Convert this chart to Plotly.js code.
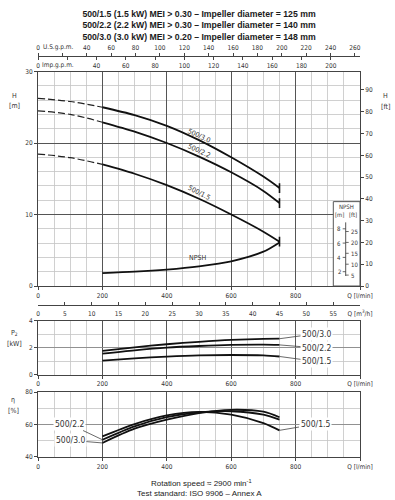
<!DOCTYPE html>
<html><head><meta charset="utf-8">
<script src="https://cdn.plot.ly/plotly-3.0.1.min.js"></script>
<style>html,body{margin:0;padding:0;background:#fff}#chart{width:395px;height:500px}</style>
</head><body><div id="chart"></div>
<script>
// ---- data ----
const Q_SOLID = [200, 300, 400, 500, 600, 700, 750];      // l/min
const Q_DASH  = [0, 100, 200];
const H_30 = [25.0, 23.9, 22.4, 20.4, 18.0, 15.3, 13.7];
const H_22 = [22.9, 21.6, 20.0, 18.1, 15.9, 13.3, 11.6];
const H_15 = [17.0, 15.7, 14.1, 12.2, 10.0, 7.6, 6.2];
const HD_30 = [26.25, 25.8, 25.0];
const HD_22 = [24.5, 24.0, 22.9];
const HD_15 = [18.45, 17.95, 17.0];
const NPSH = [1.8, 2.0, 2.3, 2.75, 3.45, 4.8, 6.1];
const P2_30 = [1.76, 2.02, 2.25, 2.43, 2.57, 2.65, 2.66];
const P2_22 = [1.55, 1.80, 2.00, 2.12, 2.20, 2.22, 2.20];
const P2_15 = [1.03, 1.20, 1.33, 1.42, 1.45, 1.42, 1.34];
const ETA_30 = [48.5, 57.3, 62.9, 67.0, 69.0, 67.8, 64.4];
const ETA_22 = [50.5, 58.8, 64.4, 67.4, 68.1, 66.0, 62.9];
const ETA_15 = [52.6, 60.2, 65.5, 67.7, 66.0, 60.8, 56.3];
const SERIES = ['500/3.0', '500/2.2', '500/1.5'];
const TITLE_LINES = [
  '500/1.5 (1.5 kW) MEI > 0.30 – Impeller diameter = 125 mm',
  '500/2.2 (2.2 kW) MEI > 0.30 – Impeller diameter = 140 mm',
  '500/3.0 (3.0 kW) MEI > 0.20 – Impeller diameter = 148 mm'
];
const LPM_TICKS = [0, 200, 400, 600, 800, 1000];
const LPM_TEXT = ['0', '200', '400', '600', '800', 'Q [l/min]'];
const M3H_TICKS = [0, 5, 10, 15, 20, 25, 30, 35, 40, 45, 50, 55, 60];
const USG_TICKS = [0, 40, 60, 80, 100, 120, 140, 160, 180, 200, 220, 240, 260];
const IMP_TICKS = [0, 40, 60, 80, 100, 120, 140, 160, 180, 200, 220];
const UNLABELLED_GPM = [20];
const H_M_TICKS = [0, 10, 20, 30];
const H_FT_TICKS = [0, 10, 20, 30, 40, 50, 60, 70, 80, 90];
const NPSH_M_TICKS = [2, 4, 6, 8];
const NPSH_FT_TICKS = [5, 10, 15, 20, 25];
const P2_TICKS = [0, 2, 4];
const ETA_TICKS = [40, 60, 80];

// ---- layout helpers ----
const L = 38, R = 35, PW = 395 - L - R, PH = 500;
const px = x => (x - L) / PW;
const py = y => 1 - y / PH;
const FT = 0.3048, QMAX = 1000;
const TF = 'DejaVu Sans Condensed, Liberation Sans Narrow, DejaVu Sans, sans-serif';
const tickFont = {family: TF, size: 6.5, color: '#333'};
const smallFont = {family: TF, size: 6, color: '#333'};
const MINOR = '#c4c4c4', MAJOR = '#555', LINE = '#444', CURVE = '#111';
const last = a => a[a.length - 1];

function solid(x, y, xa, ya) {
  return {x: x, y: y, xaxis: xa, yaxis: ya, mode: 'lines', type: 'scatter',
    line: {color: CURVE, width: 1.8, shape: 'spline', smoothing: 0.8},
    showlegend: false, hoverinfo: 'skip'};
}
function dashed(x, y) {
  return {x: x, y: y, xaxis: 'x', yaxis: 'y', mode: 'lines', type: 'scatter',
    line: {color: '#222', width: 1.2, dash: '7px,3px', shape: 'spline'},
    showlegend: false, hoverinfo: 'skip'};
}
function endBar(x, y, xa, ya) {
  return {x: [last(x)], y: [last(y)], xaxis: xa, yaxis: ya, mode: 'markers', type: 'scatter',
    marker: {symbol: 'line-ns', size: 7, color: CURVE, line: {width: 1.6, color: CURVE}},
    showlegend: false, hoverinfo: 'skip'};
}
function dummy(xa, ya) {
  return {x: [], y: [], xaxis: xa, yaxis: ya, type: 'scatter', mode: 'lines', showlegend: false, hoverinfo: 'skip'};
}

const traces = [
  dashed(Q_DASH, HD_30), dashed(Q_DASH, HD_22), dashed(Q_DASH, HD_15),
  solid(Q_SOLID, H_30, 'x', 'y'), solid(Q_SOLID, H_22, 'x', 'y'), solid(Q_SOLID, H_15, 'x', 'y'),
  solid(Q_SOLID, NPSH, 'x', 'y'),
  endBar(Q_SOLID, H_30, 'x', 'y'), endBar(Q_SOLID, H_22, 'x', 'y'), endBar(Q_SOLID, H_15, 'x', 'y'),
  solid(Q_SOLID, P2_30, 'x5', 'y5'), solid(Q_SOLID, P2_22, 'x5', 'y5'), solid(Q_SOLID, P2_15, 'x5', 'y5'),
  solid(Q_SOLID, ETA_30, 'x6', 'y6'), solid(Q_SOLID, ETA_22, 'x6', 'y6'), solid(Q_SOLID, ETA_15, 'x6', 'y6'),
  dummy('x', 'y2'), dummy('x2', 'y'), dummy('x3', 'y'), dummy('x4', 'y')
];

function lpmAxis(anchor) {
  return {range: [0, QMAX], anchor: anchor, domain: [0, 1], tickmode: 'array',
    tickvals: LPM_TICKS, ticktext: LPM_TEXT, ticks: 'outside', ticklen: 3, tickcolor: LINE,
    tickfont: tickFont, showgrid: true, gridcolor: MAJOR, gridwidth: 1,
    minor: {tickmode: 'linear', tick0: 0, dtick: 50, showgrid: true, gridcolor: MINOR, gridwidth: 0.8, ticks: ''},
    showline: true, mirror: true, linecolor: LINE, linewidth: 1, zeroline: false, fixedrange: true};
}

const layout = {
  width: 395, height: 500,
  margin: {l: L, r: R, t: 0, b: 0, pad: 0},
  paper_bgcolor: '#fff', plot_bgcolor: '#fff',
  showlegend: false,
  title: {text: TITLE_LINES.join('<br>'), x: 0.5, xref: 'paper', xanchor: 'center',
    y: py(17), yref: 'container', yanchor: 'top',
    font: {family: 'Liberation Sans, Arial, sans-serif', size: 8.7, color: '#1a1a1a', weight: 'bold'}},
  xaxis: lpmAxis('y'),
  yaxis: {domain: [py(286), py(71.5)], range: [0, 30], tickmode: 'array', tickvals: H_M_TICKS,
    ticks: 'outside', ticklen: 3, tickcolor: LINE, tickfont: tickFont,
    showgrid: true, gridcolor: MAJOR, gridwidth: 1,
    minor: {tickmode: 'linear', tick0: 0, dtick: 2, showgrid: true, gridcolor: MINOR, gridwidth: 0.8, ticks: ''},
    showline: true, mirror: true, linecolor: LINE, zeroline: false, fixedrange: true},
  yaxis2: {overlaying: 'y', side: 'right', anchor: 'x', range: [0, 30 / FT], tickmode: 'array',
    tickvals: H_FT_TICKS, ticks: 'outside', ticklen: 3, tickcolor: LINE, tickfont: tickFont,
    showgrid: false, showline: true, linecolor: LINE, zeroline: false, fixedrange: true},
  xaxis2: {overlaying: 'x', anchor: 'free', position: py(305), side: 'bottom', range: [0, QMAX * 60 / 1000],
    tickmode: 'array', tickvals: M3H_TICKS,
    ticktext: M3H_TICKS.map((v, i) => i === M3H_TICKS.length - 1 ? 'Q [m<sup>3</sup>/h]' : String(v)),
    ticks: 'inside', ticklen: 3, tickcolor: LINE, tickfont: tickFont, ticklabelstandoff: 2,
    showgrid: false, showline: true, linecolor: LINE, zeroline: false, fixedrange: true},
  xaxis3: {overlaying: 'x', anchor: 'free', position: py(55.7), side: 'top', range: [0, QMAX / 3.78541],
    tickmode: 'array', tickvals: USG_TICKS,
    minor: {tickmode: 'array', tickvals: UNLABELLED_GPM, ticks: 'outside', ticklen: 3, tickcolor: LINE, showgrid: false},
    ticks: 'outside', ticklen: 3, tickcolor: LINE, tickfont: tickFont,
    showgrid: false, showline: true, linecolor: LINE, zeroline: false, fixedrange: true},
  xaxis4: {overlaying: 'x', anchor: 'free', position: py(55.7), side: 'bottom', range: [0, QMAX / 4.54609],
    tickmode: 'array', tickvals: IMP_TICKS,
    minor: {tickmode: 'array', tickvals: UNLABELLED_GPM, ticks: 'outside', ticklen: 3, tickcolor: LINE, showgrid: false},
    ticks: 'outside', ticklen: 3, tickcolor: LINE, tickfont: tickFont,
    showgrid: false, showline: false, zeroline: false, fixedrange: true},
  xaxis5: lpmAxis('y5'),
  yaxis5: {domain: [py(374.5), py(320.7)], anchor: 'x5', range: [0, 4], tickmode: 'array', tickvals: P2_TICKS,
    ticks: 'outside', ticklen: 3, tickcolor: LINE, tickfont: tickFont,
    showgrid: true, gridcolor: '#8a8a8a', gridwidth: 0.9,
    minor: {tickmode: 'linear', tick0: 0, dtick: 1, showgrid: true, gridcolor: MINOR, gridwidth: 0.8, ticks: ''},
    showline: true, mirror: true, linecolor: LINE, zeroline: false, fixedrange: true},
  xaxis6: lpmAxis('y6'),
  yaxis6: {domain: [py(456.7), py(392)], anchor: 'x6', range: [40, 80], tickmode: 'array', tickvals: ETA_TICKS,
    ticks: 'outside', ticklen: 3, tickcolor: LINE, tickfont: tickFont,
    showgrid: true, gridcolor: '#8a8a8a', gridwidth: 0.9,
    minor: {tickmode: 'linear', tick0: 40, dtick: 10, showgrid: true, gridcolor: MINOR, gridwidth: 0.8, ticks: ''},
    showline: true, mirror: true, linecolor: LINE, zeroline: false, fixedrange: true},
  shapes: [],
  annotations: []
};

// NPSH inset scale (white box over the grid, with m and ft ticks in the H scale)
const S = layout.shapes;
const NX = px(345.7);
S.push({type: 'rect', xref: 'paper', yref: 'y', x0: px(333.3), x1: 1, y0: 0, y1: 11.8,
  fillcolor: '#fff', line: {color: '#555', width: 1}, layer: 'above'});
S.push({type: 'line', xref: 'paper', yref: 'y', x0: NX, x1: NX, y0: 1.4, y1: 8.9,
  line: {color: '#444', width: 0.9}, layer: 'above'});
NPSH_M_TICKS.forEach(v => S.push({type: 'line', xref: 'paper', yref: 'y', x0: px(342.7), x1: NX, y0: v, y1: v,
  line: {color: '#444', width: 0.8}, layer: 'above'}));
NPSH_FT_TICKS.forEach(v => S.push({type: 'line', xref: 'paper', yref: 'y', x0: NX, x1: px(348.7), y0: v * FT, y1: v * FT,
  line: {color: '#444', width: 0.8}, layer: 'above'}));

const A = layout.annotations;
NPSH_M_TICKS.forEach(v => A.push({text: String(v), xref: 'paper', yref: 'y', x: px(341.8), y: v,
  xanchor: 'right', yanchor: 'middle', showarrow: false, font: smallFont, borderpad: 0}));
NPSH_FT_TICKS.forEach(v => A.push({text: String(v), xref: 'paper', yref: 'y', x: px(349.5), y: v * FT,
  xanchor: 'left', yanchor: 'middle', showarrow: false, font: smallFont, borderpad: 0}));

const lab = {family: TF, size: 7, color: '#333'};
function pap(text, x, y, font) {
  A.push({text: text, xref: 'paper', yref: 'paper', x: px(x), y: py(y), showarrow: false,
    xanchor: 'center', yanchor: 'middle', font: font || lab});
}
pap('U.S.g.p.m.', 58, 47, tickFont);
pap('Imp.g.p.m.', 57.5, 64.5, tickFont);
pap('H', 14, 95.7); pap('[m]', 14, 106);
pap('H', 385, 95.7); pap('[ft]', 385, 106.7);
pap('P<sub>2</sub>', 14, 333); pap('[kW]', 14, 343.5);
pap('η', 13, 400); pap('[%]', 13, 411);
pap('NPSH', 346.5, 207, smallFont);
pap('[m]', 339.5, 215, smallFont);
pap('[ft]', 352.8, 215, smallFont);
pap('Rotation speed ≈ 2900 min<sup>-1</sup>', 201, 483, {family: 'Liberation Sans, Arial, sans-serif', size: 8, color: '#222'});
pap('Test standard: ISO 9906 – Annex A', 200, 493, {family: 'Liberation Sans, Arial, sans-serif', size: 8, color: '#222'});

// curve labels in H chart
const curveLabFont = {family: TF, size: 7, color: '#333'};
[[SERIES[0], 21.0, 25], [SERIES[1], 18.9, 25], [SERIES[2], 13.0, 27]].forEach(d => {
  A.push({text: d[0], xref: 'x', yref: 'y', x: 500, y: d[1], textangle: d[2], showarrow: false, font: curveLabFont});
});
A.push({text: 'NPSH', xref: 'x', yref: 'y', x: 497, y: 3.9, showarrow: false, font: curveLabFont});

// leader labels
const leadFont = {family: TF, size: 8.5, color: '#333'};
function leader(text, x, y, xa, ya, ax, ay) {
  A.push({text: text, xref: xa, yref: ya, x: x, y: y, ax: ax, ay: ay, showarrow: true, arrowhead: 0,
    arrowwidth: 0.8, arrowcolor: '#444', standoff: 0, bgcolor: '#fff', borderpad: 1, font: leadFont});
}
leader(SERIES[0], last(Q_SOLID), last(P2_30), 'x5', 'y5', 37, -5);
leader(SERIES[1], last(Q_SOLID), last(P2_22), 'x5', 'y5', 37, 3);
leader(SERIES[2], last(Q_SOLID), last(P2_15), 'x5', 'y5', 37, 5);
leader(SERIES[1], Q_SOLID[0], ETA_22[0], 'x6', 'y6', -33, -15.7);
leader(SERIES[0], Q_SOLID[0], ETA_30[0], 'x6', 'y6', -32, -2.7);
leader(SERIES[2], last(Q_SOLID), last(ETA_15), 'x6', 'y6', 35.5, -6);

Plotly.newPlot('chart', traces, layout, {staticPlot: true, displayModeBar: false});
</script></body></html>
